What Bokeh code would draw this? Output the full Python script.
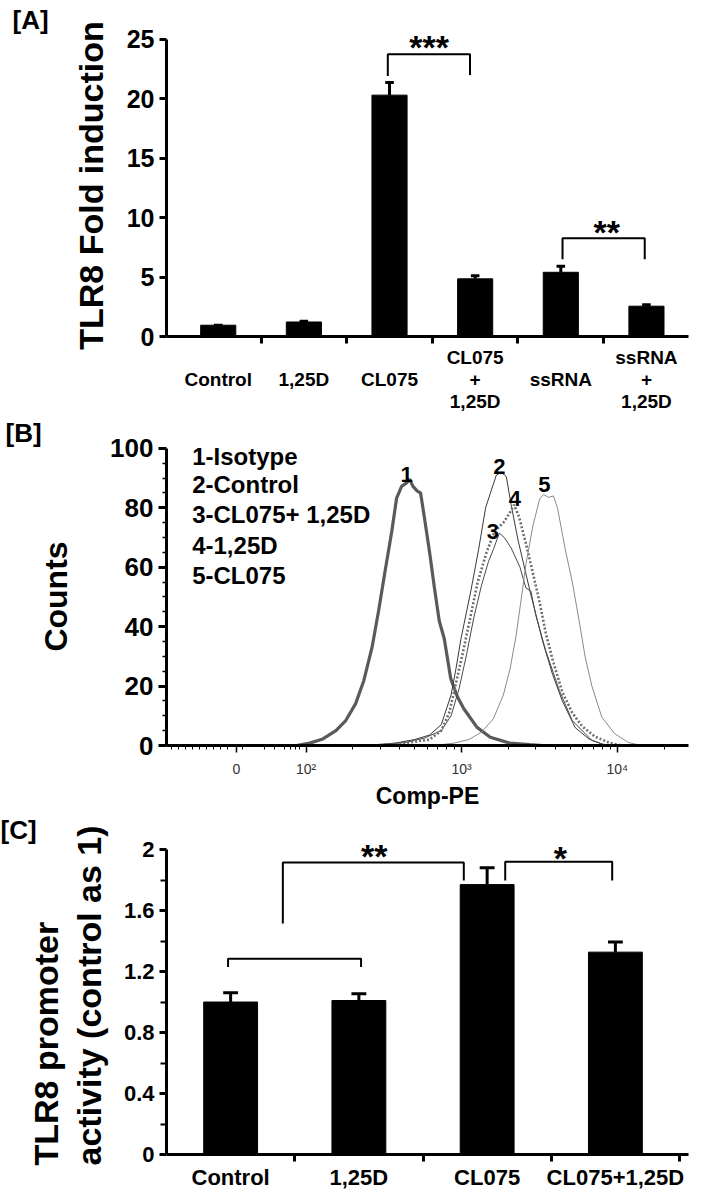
import numpy as np
from bokeh.plotting import figure
from bokeh.models import Range1d, FixedTicker, Label, Title
from bokeh.layouts import column
from bokeh.embed import file_html
from bokeh.resources import INLINE

FONT = "Liberation Sans"
W = 720

# ---------------- Panel A data ----------------
a_categories = ["\nControl", "\n1,25D", "\nCL075", "CL075\n+\n1,25D", "\nssRNA", "ssRNA\n+\n1,25D"]
a_values = [0.95, 1.22, 20.3, 4.85, 5.4, 2.55]
a_errors = [0.0, 0.06, 1.06, 0.25, 0.5, 0.11]
a_ticks = [0, 5, 10, 15, 20, 25]

# ---------------- Panel B data (x: log10 Comp-PE display units, y: counts) ----------------
b_legend = ["1-Isotype", "2-Control", "3-CL075+ 1,25D", "4-1,25D", "5-CL075"]
b1_x = [1.939, 2.023, 2.108, 2.192, 2.255, 2.318, 2.371, 2.424, 2.466, 2.508, 2.551, 2.582, 2.614,
        2.646, 2.666, 2.687, 2.715, 2.736, 2.761, 2.793, 2.825, 2.856, 2.888, 2.930, 2.972, 3.015,
        3.099, 3.184, 3.310, 3.437, 3.521]
b1_y = [0, 0.8, 2.2, 5.0, 8.4, 14.0, 21.8, 33.0, 45.3, 58.7, 72.1, 83.3, 87.2,
        88.4, 89.6, 87.2, 85.6, 85.0, 76.6, 65.4, 53.1, 41.9, 36.0, 22.5, 16.5, 12.3,
        6.1, 2.8, 0.8, 0.3, 0]
b2_x = [2.382, 2.572, 2.698, 2.793, 2.869, 2.932, 2.964, 2.996, 3.059, 3.109, 3.154, 3.185, 3.223,
        3.255, 3.287, 3.318, 3.363, 3.439, 3.521, 3.584, 3.647, 3.730, 3.818, 3.901, 3.964]
b2_y = [0, 0.8, 2, 3.5, 7, 17, 26, 36, 52, 66, 80, 85, 91,
        92, 90.5, 81, 69, 52, 35, 24, 15, 6, 2.2, 0.5, 0]
b3_x = [2.445, 2.635, 2.761, 2.869, 2.932, 2.983, 3.033, 3.078, 3.128, 3.173, 3.204, 3.242,
        3.274, 3.318, 3.375, 3.413, 3.445, 3.476, 3.540, 3.628, 3.711, 3.837, 3.932]
b3_y = [0, 1, 2.5, 5, 10, 19, 31, 43, 54, 62, 66, 71.5,
        70, 66.5, 60, 53, 52, 44, 32, 18.5, 8.4, 1.7, 0]
b4_x = [2.445, 2.635, 2.793, 2.869, 2.920, 2.964, 3.015, 3.059, 3.103, 3.160, 3.211, 3.268, 3.306,
        3.337, 3.369, 3.413, 3.458, 3.502, 3.540, 3.584, 3.647, 3.711, 3.774, 3.856, 3.945, 4.027]
b4_y = [0, 0.8, 2, 5, 11, 21, 33, 44, 55, 65, 72, 75, 78,
        81, 77, 68, 58, 48, 38, 29, 18, 11, 6.5, 3, 1, 0]
b5_x = [2.825, 2.951, 3.046, 3.128, 3.204, 3.268, 3.312, 3.350, 3.382, 3.413, 3.458, 3.502, 3.527,
        3.559, 3.590, 3.616, 3.666, 3.711, 3.755, 3.793, 3.837, 3.901, 3.983, 4.071, 4.155]
b5_y = [0, 0.8, 2, 4.5, 9, 17, 26, 37, 49, 61, 74, 83, 84.5,
        83.5, 84, 80, 66, 55, 42, 30, 20, 9.5, 4, 1, 0]
b_xtick_labels = ["0", "10\u00b2", "10\u00b3", "10\u2074"]
b_yticks = [0, 20, 40, 60, 80, 100]

# ---------------- Panel C data ----------------
c_categories = ["Control", "1,25D", "CL075", "CL075+1,25D"]
c_values = [1.0, 1.01, 1.77, 1.327]
c_errors = [0.06, 0.045, 0.11, 0.066]
c_ticks = [0, 0.4, 0.8, 1.2, 1.6, 2]
c_tick_labels = ["0", "0.4", "0.8", "1.2", "1.6", "2"]


def make_fig(height, xr, yr, mbl, mbr, mbt, mbb):
    p = figure(width=W, height=height, x_range=xr, y_range=yr,
               output_backend="svg", toolbar_location=None,
               min_border_left=mbl, min_border_right=mbr,
               min_border_top=mbt, min_border_bottom=mbb)
    p.grid.visible = False
    p.outline_line_color = None
    p.background_fill_color = "white"
    p.border_fill_color = "white"
    for ax in (p.xaxis[0], p.yaxis[0]):
        ax.axis_line_color = "black"
        ax.major_tick_line_color = "black"
        ax.minor_tick_line_color = "black"
        ax.major_tick_in = 0
        ax.minor_tick_in = 0
        ax.major_label_text_font = FONT
        ax.major_label_text_font_style = "bold"
        ax.major_label_text_color = "black"
        ax.axis_label_text_font = FONT
        ax.axis_label_text_font_style = "bold"
        ax.axis_label_text_color = "black"
    return p


def set_tag(p, text, offset):
    p.title.text = text
    p.title.align = "left"
    p.title.offset = offset
    p.title.standoff = 0
    p.title.text_font = FONT
    p.title.text_font_size = "26px"
    p.title.text_font_style = "bold"
    p.title.text_color = "black"
    p.title.text_line_height = 0.85


def add_label(p, x, y, text, size, align="left", baseline="alphabetic", angle=0, style="bold"):
    p.add_layout(Label(x=x, y=y, text=text, text_font=FONT, text_font_size=f"{size}px",
                       text_font_style=style, text_color="black", text_align=align,
                       text_baseline=baseline, angle=angle, angle_units="deg"))


# ================= Panel A =================
pa = make_fig(414, Range1d(-0.104, 5.991), Range1d(0, 25.4), 156, 13, 34, 77)
set_tag(pa, "[A]", -154)
a_x = np.arange(len(a_categories)) + 0.5
a_val = np.array(a_values)
a_top = a_val + np.array(a_errors)
pa.vbar(x=a_x, top=a_val, width=0.41, fill_color="black", line_color="black")
pa.segment(x0=a_x, y0=a_val, x1=a_x, y1=a_top, line_width=3, line_color="black")
pa.segment(x0=a_x - 0.05, y0=a_top, x1=a_x + 0.05, y1=a_top, line_width=3, line_color="black")

xa = pa.xaxis[0]
xa.ticker = FixedTicker(ticks=list(a_x), minor_ticks=[1, 2, 3, 4, 5])
xa.major_label_overrides = {float(x): c for x, c in zip(a_x, a_categories)}
xa.major_tick_line_color = None
xa.major_tick_out = 7
xa.minor_tick_out = 7
xa.minor_tick_line_width = 3
xa.axis_line_width = 3
xa.major_label_standoff = 3
xa.major_label_text_font_size = "19px"
xa.major_label_text_line_height = 1.05

ya = pa.yaxis[0]
ya.ticker = FixedTicker(ticks=a_ticks)
ya.bounds = (0, 25)
ya.minor_tick_line_color = None
ya.major_tick_out = 7
ya.major_tick_line_width = 3
ya.axis_line_width = 3
ya.major_label_text_font_size = "25px"
ya.axis_label = "TLR8 Fold induction"
ya.axis_label_text_font_size = "34px"
ya.axis_label_standoff = 14

# significance brackets A
pa.multi_line(xs=[[a_x[2] - 0.02, a_x[2] - 0.02, a_x[3] - 0.06, a_x[3] - 0.06],
                  [a_x[4] + 0.02, a_x[4] + 0.02, a_x[5] - 0.02, a_x[5] - 0.02]],
              ys=[[21.9, 23.74, 23.74, 22.0], [6.5, 8.26, 8.26, 6.5]],
              line_width=2, line_color="black")
add_label(pa, 2.962, 24.35, "***", 34, align="center")
add_label(pa, 5.037, 8.78, "**", 34, align="center")

# ================= Panel B =================
pb = make_fig(397, Range1d(1.103, 4.458), Range1d(0, 100.3), 158, 32, 33, 66)
set_tag(pb, "[B]", -161)
pb.line(b1_x, b1_y, line_width=3.2, line_color="#5a5a5a")
pb.line(b2_x, b2_y, line_width=1, line_color="#3a3a3a")
pb.line(b3_x, b3_y, line_width=1, line_color="#4a4a4a")
pb.line(b4_x, b4_y, line_width=2.6, line_color="#6e6e6e", line_dash="2 2")
pb.line(b5_x, b5_y, line_width=1, line_color="#8a8a8a")

xb = pb.xaxis[0]
b_xticks = [1.5525, 2, 3, 4]
b_minor = [1.135, 1.18, 1.225, 1.27, 1.315, 1.36, 1.405, 1.45, 1.495, 1.59, 1.73, 1.80, 1.86, 1.90,
           1.93, 1.96] + [d + np.log10(k) for d in (2, 3) for k in range(2, 10)] + [4 + np.log10(2)]
xb.ticker = FixedTicker(ticks=b_xticks, minor_ticks=[float(m) for m in b_minor])
xb.major_label_overrides = {float(t): s for t, s in zip(b_xticks, b_xtick_labels)}
xb.major_label_text_font_style = "normal"
xb.major_label_text_font_size = "14px"
xb.major_label_text_color = "#333333"
xb.major_tick_out = 7
xb.minor_tick_out = 4
xb.major_tick_line_width = 1.5
xb.minor_tick_line_width = 1
xb.axis_line_width = 3
xb.major_label_standoff = 8
xb.axis_label = "Comp-PE"
xb.axis_label_text_font_size = "23px"
xb.axis_label_standoff = 3

yb = pb.yaxis[0]
yb.ticker = FixedTicker(ticks=b_yticks, minor_ticks=[v for v in range(0, 101, 5) if v % 20])
yb.bounds = (0, 100)
yb.major_tick_out = 8
yb.minor_tick_out = 4
yb.major_tick_line_width = 3
yb.minor_tick_line_width = 1.5
yb.axis_line_width = 3
yb.major_label_text_font_size = "26px"
yb.axis_label = "Counts"
yb.axis_label_text_font_size = "32px"
yb.axis_label_standoff = 33

legend_y = [97.2, 87.8, 77.7, 67.2, 57.2]
for txt, yy in zip(b_legend, legend_y):
    add_label(pb, 1.268, yy, txt, 24, baseline="middle")
peak_pos = [(2.646, 91.3, "1"), (3.242, 94.0, "2"), (3.200, 72.1, "3"), (3.342, 83.3, "4"), (3.532, 87.8, "5")]
for px_, py_, t in peak_pos:
    add_label(pb, px_, py_, t, 22, align="center", baseline="middle")

# ================= Panel C =================
pc = make_fig(383, Range1d(0, 4.07), Range1d(0, 2.033), 166, 29, 33, 40)
set_tag(pc, "[C]", -166)
c_x = np.arange(len(c_categories)) + 0.5
c_val = np.array(c_values)
c_top = c_val + np.array(c_errors)
pc.vbar(x=c_x, top=c_val, width=0.42, fill_color="black", line_color="black")
pc.segment(x0=c_x, y0=c_val, x1=c_x, y1=c_top, line_width=3, line_color="black")
pc.segment(x0=c_x - 0.058, y0=c_top, x1=c_x + 0.058, y1=c_top, line_width=3, line_color="black")

xc = pc.xaxis[0]
xc.ticker = FixedTicker(ticks=list(c_x), minor_ticks=[1, 2, 3, 4])
xc.major_label_overrides = {float(x): c for x, c in zip(c_x, c_categories)}
xc.major_tick_line_color = None
xc.major_tick_out = 7
xc.minor_tick_out = 7
xc.minor_tick_line_width = 3
xc.axis_line_width = 3
xc.major_label_standoff = 3
xc.major_label_text_font_size = "22px"
xc.major_label_text_line_height = 1.0

yc = pc.yaxis[0]
yc.ticker = FixedTicker(ticks=c_ticks, minor_ticks=[0.2, 0.6, 1.0, 1.4, 1.8])
yc.bounds = (0, 2)
yc.major_label_overrides = {float(t): s for t, s in zip(c_ticks, c_tick_labels)}
yc.major_tick_out = 7
yc.minor_tick_out = 6
yc.major_tick_line_width = 3
yc.minor_tick_line_width = 2
yc.axis_line_width = 3
yc.major_label_text_font_size = "22px"

for txt, so in (("activity (control as 1)", 25), ("TLR8 promoter", -18)):
    pc.add_layout(Title(text=txt, align="left", offset=-11, standoff=so, text_font=FONT,
                        text_font_size="34px", text_font_style="bold", text_color="black",
                        text_line_height=0.8), "left")

pc.multi_line(xs=[[0.48, 0.48, 1.517, 1.517], [0.907, 0.907, 2.318, 2.318], [2.641, 2.641, 3.475, 3.475]],
              ys=[[1.23, 1.284, 1.284, 1.23], [1.515, 1.915, 1.915, 1.797], [1.797, 1.92, 1.92, 1.797]],
              line_width=2, line_color="black")
add_label(pc, 1.62, 1.955, "**", 34, align="center")
add_label(pc, 3.07, 1.944, "*", 34, align="center")

layout = column(pa, pb, pc)
open("out.html", "w").write(file_html(layout, INLINE))
